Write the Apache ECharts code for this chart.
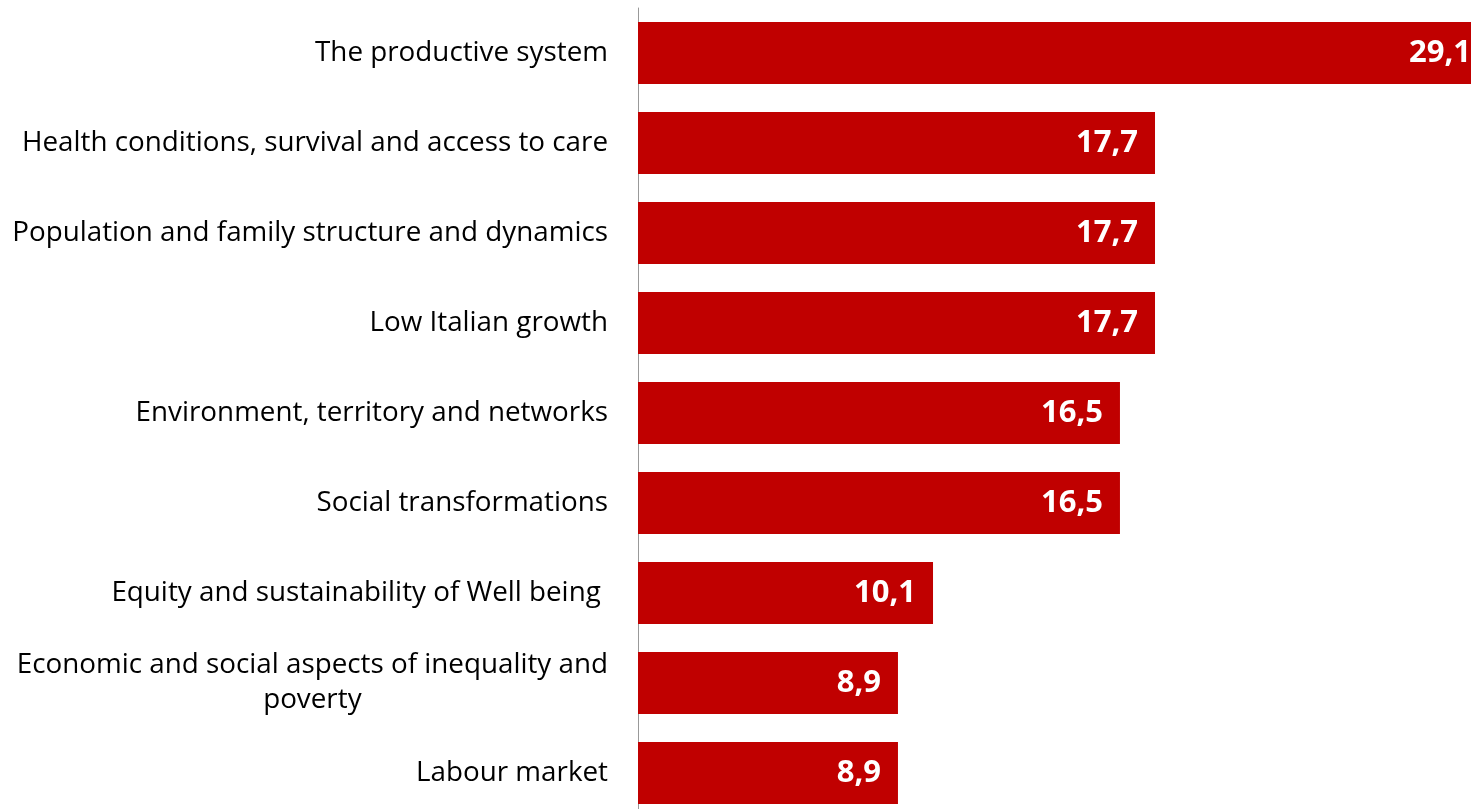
<!DOCTYPE html>
<html>
<head>
<meta charset="utf-8">
<script src="https://cdn.jsdelivr.net/npm/echarts@6/dist/echarts.min.js"></script>
<style>
html,body{margin:0;padding:0;background:#fff;}
#chart{width:1471px;height:809px;}
</style>
</head>
<body>
<div id="chart"></div>
<script>
const categories = [
  "The productive system",
  "Health conditions, survival and access to care",
  "Population and family structure and dynamics",
  "Low Italian growth",
  "Environment, territory and networks",
  "Social transformations",
  "Equity and sustainability of Well being ",
  "Economic and social aspects of inequality and poverty",
  "Labour market"
];
const values = [29.1, 17.7, 17.7, 17.7, 16.5, 16.5, 10.1, 8.9, 8.9];

const FONT = "Open Sans";
const chart = echarts.init(document.getElementById('chart'));
chart.setOption({
  animation: false,
  backgroundColor: '#ffffff',
  grid: { left: 638, top: 8, width: 850, height: 810, containLabel: false, outerBoundsMode: 'none' },
  xAxis: {
    type: 'value', min: 0, max: 29.1,
    show: false
  },
  yAxis: {
    type: 'category',
    inverse: true,
    data: categories,
    axisLine: { show: true, lineStyle: { color: '#999999', width: 1 } },
    axisTick: { show: false },
    axisLabel: {
      margin: 30,
      fontFamily: FONT,
      fontSize: 27.8,
      color: '#000000',
      align: 'right',
      lineHeight: 35,
      formatter: function (v) {
        if (v === "Economic and social aspects of inequality and poverty") {
          return '{a|Economic and social aspects of inequality and}\n{b|poverty}';
        }
        return v;
      },
      rich: {
        a: { fontFamily: FONT, fontSize: 27.8, color: '#000', lineHeight: 35 },
        b: { fontFamily: FONT, fontSize: 27.8, color: '#000', lineHeight: 35, align: 'center' }
      }
    }
  },
  series: [{
    type: 'bar',
    data: values,
    barCategoryGap: '31%',
    itemStyle: { color: '#C00000' },
    label: {
      show: true,
      position: 'insideRight',
      distance: 17,
      color: '#ffffff',
      fontFamily: FONT,
      fontWeight: 'bold',
      fontSize: 31,
      formatter: function (p) { return p.value.toFixed(1).replace('.', ','); }
    }
  }]
});
</script>
</body>
</html>
